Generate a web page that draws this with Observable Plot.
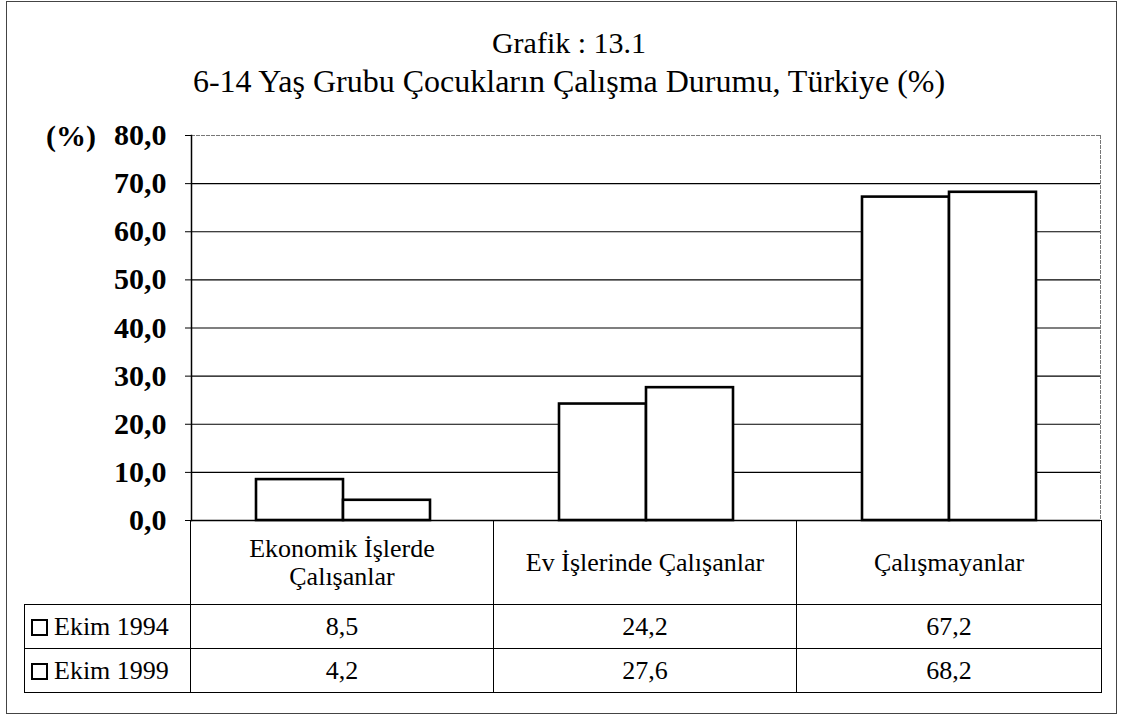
<!DOCTYPE html>
<html>
<head>
<meta charset="utf-8">
<script src="https://cdn.jsdelivr.net/npm/d3@7"></script>
<script src="https://cdn.jsdelivr.net/npm/@observablehq/plot@0.6"></script>
<style>
  html, body { margin: 0; padding: 0; background: #fff; }
  #wrap { position: relative; width: 1123px; height: 718px; font-family: "Liberation Serif", "Times New Roman", serif; color: #000; overflow: hidden; }
  #outer { position: absolute; left: 6px; top: 1px; width: 1111px; height: 713px; border: 1px solid #444; box-sizing: border-box; }
  .ttl { position: absolute; left: 0; width: 1138px; text-align: center; white-space: nowrap; }
  #pct { position: absolute; left: 46px; top: 121px; font-size: 30px; line-height: 30px; font-weight: bold; }
  #chart { position: absolute; left: 0; top: 100px; }
  #tbl { position: absolute; left: 24px; top: 520px; border-collapse: collapse; table-layout: fixed; width: 1077px; }
  #tbl td { border: 1px solid #000; padding: 0 12px; text-align: center; vertical-align: middle; font-size: 26px; line-height: 28px; }
  #tbl tr.head td { height: 83px; }
  #tbl tr.row td { height: 43px; font-size: 26px; }
  #tbl td.blank { border-top: none; border-left: none; }
  #tbl td.leg { text-align: left; padding: 0 0 0 6px; font-size: 29px; white-space: nowrap; }
  .sw { display: inline-block; width: 13px; height: 13px; border: 2.5px solid #000; vertical-align: -1px; margin-right: 6px; background: #fff; }
</style>
</head>
<body>
<div id="wrap">
  <div id="outer"></div>
  <div class="ttl" id="t1" style="top:28px;font-size:30px;line-height:30px"></div>
  <div class="ttl" id="t2" style="top:65px;font-size:32px;line-height:32px"></div>
  <div id="pct"></div>
  <div id="chart"></div>
  <table id="tbl"></table>
</div>
<script>
// ---- data ----
const titleText = "Grafik : 13.1";
const subtitleText = "6-14 Yaş Grubu Çocukların Çalışma Durumu, Türkiye (%)";
const unitLabel = "(%)";
const categories = ["Ekonomik İşlerde Çalışanlar", "Ev İşlerinde Çalışanlar", "Çalışmayanlar"];
const series = ["Ekim 1994", "Ekim 1999"];
const values1994 = [8.5, 24.2, 67.2];
const values1999 = [4.2, 27.6, 68.2];
const yTicks = [0, 10, 20, 30, 40, 50, 60, 70, 80];
const gridTicks = [10, 20, 30, 40, 50, 60, 70];

const seriesValues = [values1994, values1999];
const data = categories.flatMap((c, i) =>
  series.map((s, j) => ({cat: c, series: s, value: seriesValues[j][i]}))
);
const fmt = d => d.toFixed(1).replace(".", ",");

document.getElementById("t1").textContent = titleText;
document.getElementById("t2").textContent = subtitleText;
document.getElementById("pct").textContent = unitLabel;

const chart = Plot.plot({
  width: 1123,
  height: 430,
  marginTop: 35,
  marginBottom: 10,
  marginLeft: 190,
  marginRight: 22,
  style: {fontFamily: "Liberation Serif", fontSize: "30px", fontWeight: "bold", color: "#000", background: "transparent", overflow: "visible"},
  fx: {domain: categories, padding: 0, axis: null},
  x: {domain: series, paddingInner: 0, paddingOuter: 0.725, axis: null},
  y: {domain: [0, 80], ticks: yTicks, tickFormat: fmt, tickSize: 6, tickPadding: 19, label: null},
  marks: [
    Plot.ruleY(gridTicks, {stroke: "#000", strokeWidth: 1.2}),
    Plot.frame({facet: "super", anchor: "top", stroke: "#777", strokeDasharray: "3,2"}),
    Plot.frame({facet: "super", anchor: "right", stroke: "#777", strokeDasharray: "3,2"}),
    Plot.frame({facet: "super", anchor: "left", stroke: "#000", strokeWidth: 1.5}),
    Plot.barY(data, {fx: "cat", x: "series", y: "value", fill: "#fff", stroke: "#000", strokeWidth: 2.6}),
    Plot.ruleY([0], {stroke: "#000", strokeWidth: 1.5})
  ]
});
document.getElementById("chart").appendChild(chart);

// ---- data table below the chart ----
const tbl = document.getElementById("tbl");
const cg = document.createElement("colgroup");
[166, 303, 303, 305].forEach(w => { const c = document.createElement("col"); c.style.width = w + "px"; cg.appendChild(c); });
tbl.appendChild(cg);
const head = document.createElement("tr");
head.className = "head";
const blank = document.createElement("td");
blank.className = "blank";
head.appendChild(blank);
categories.forEach(c => { const td = document.createElement("td"); td.textContent = c; head.appendChild(td); });
tbl.appendChild(head);
series.forEach((s, j) => {
  const tr = document.createElement("tr");
  tr.className = "row";
  const lg = document.createElement("td");
  lg.className = "leg";
  const sw = document.createElement("span");
  sw.className = "sw";
  lg.appendChild(sw);
  lg.appendChild(document.createTextNode(s));
  tr.appendChild(lg);
  seriesValues[j].forEach(v => { const td = document.createElement("td"); td.textContent = fmt(v); tr.appendChild(td); });
  tbl.appendChild(tr);
});
</script>
</body>
</html>
